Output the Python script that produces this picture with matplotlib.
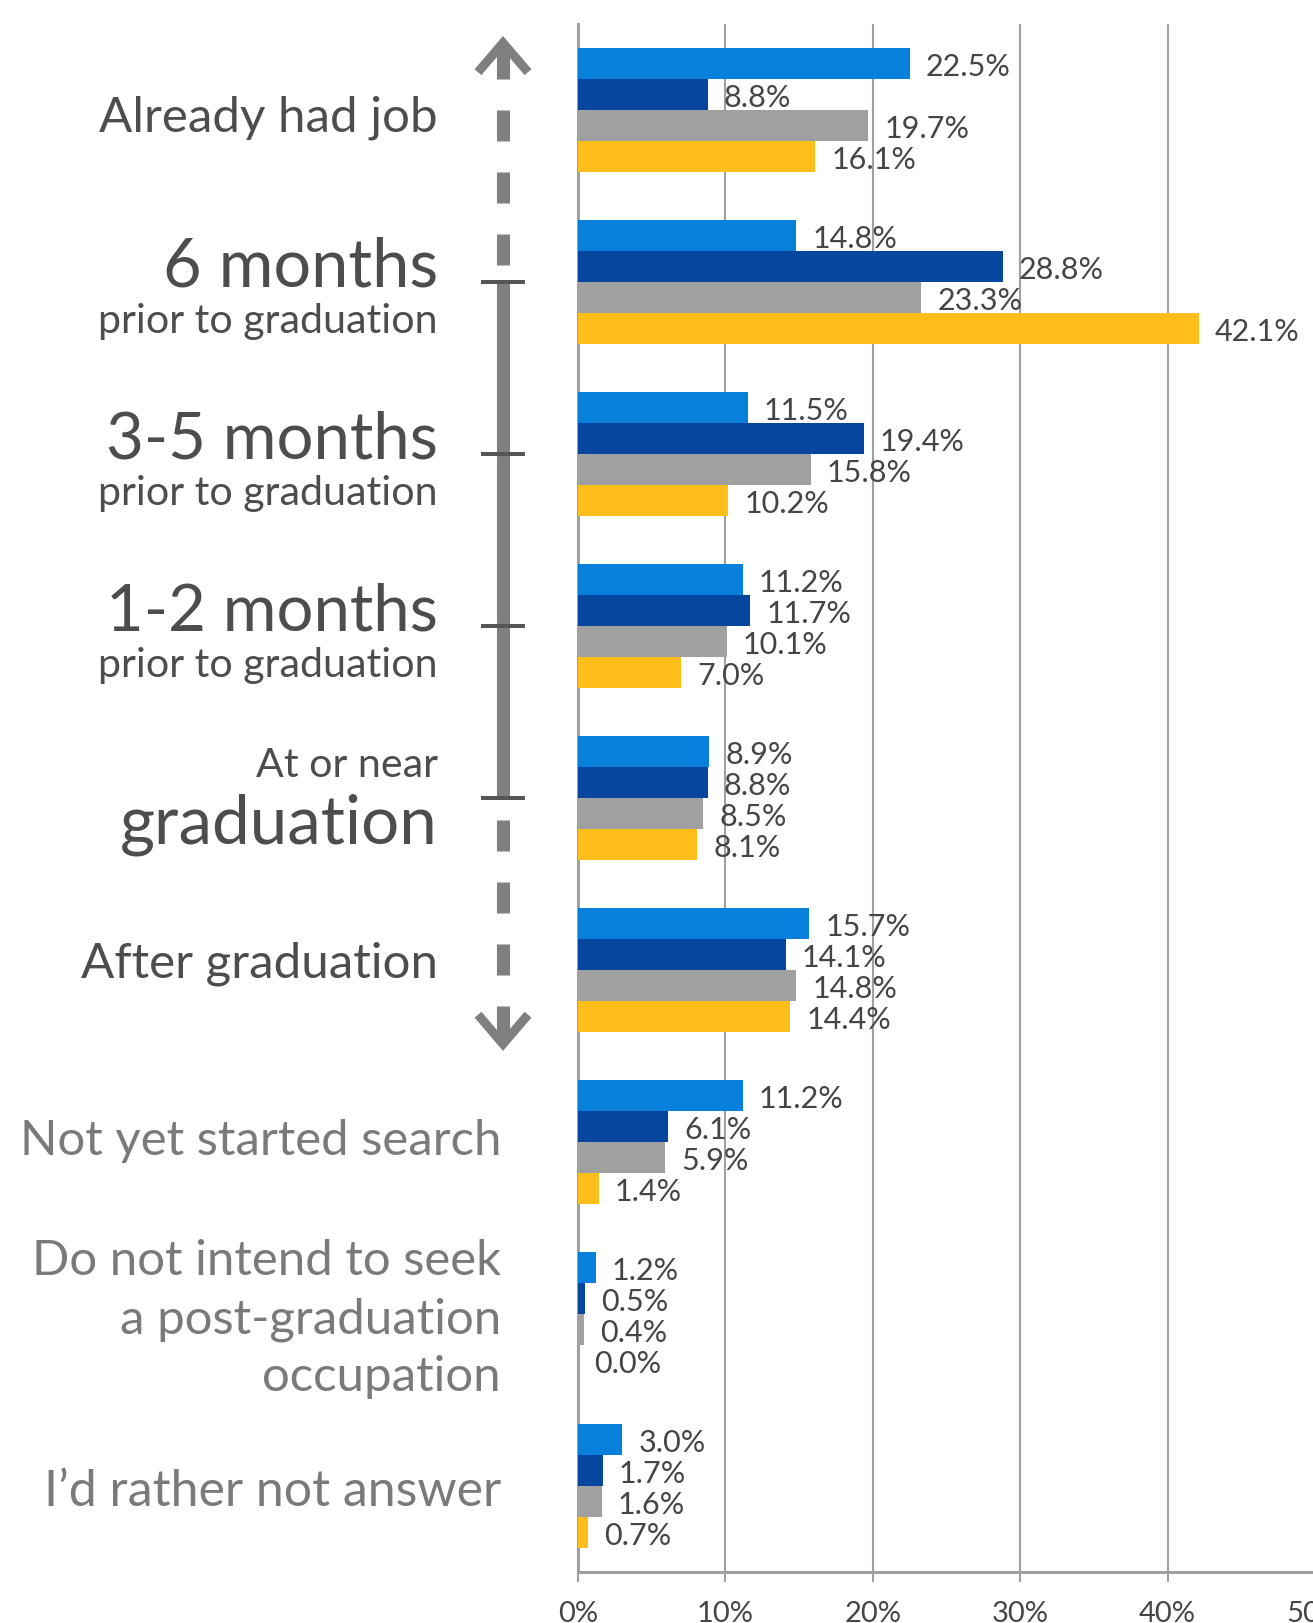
import matplotlib
matplotlib.use('Agg')
import matplotlib.pyplot as plt
import matplotlib.transforms as mtransforms
import numpy as np

# categories, top to bottom
categories = ['Already had job', '6 months prior to graduation',
              '3-5 months prior to graduation', '1-2 months prior to graduation',
              'At or near graduation', 'After graduation', 'Not yet started search',
              'Do not intend to seek a post-graduation occupation',
              "I\u2019d rather not answer"]

# four series (no legend in the picture)
series_1 = [22.5, 14.8, 11.5, 11.2, 8.9, 15.7, 11.2, 1.2, 3.0]
series_2 = [8.8, 28.8, 19.4, 11.7, 8.8, 14.1, 6.1, 0.5, 1.7]
series_3 = [19.7, 23.3, 15.8, 10.1, 8.5, 14.8, 5.9, 0.4, 1.6]
series_4 = [16.1, 42.1, 10.2, 7.0, 8.1, 14.4, 1.4, 0.0, 0.7]
x_ticks = [0, 10, 20, 30, 40, 50]
x_tick_labels = ['0%', '10%', '20%', '30%', '40%', '50%']

colors = ['#0680DA', '#05479E', '#A0A0A0', '#FFBE1A']

plt.rcParams['font.family'] = ['Lato', 'DejaVu Sans']

W, H = 1313, 1624
fig = plt.figure(figsize=(W / 100, H / 100), dpi=100)
ax = fig.add_axes([578 / W, 51 / H, (1315 - 578) / W, (1573 - 25) / H])

y = np.arange(len(categories))
bar_h = 0.18
offsets = [-0.27, -0.09, 0.09, 0.27]
for vals, off, col in zip([series_1, series_2, series_3, series_4], offsets, colors):
    ax.barh(y + off, vals, height=bar_h, color=col, zorder=3)
    for yi, v in zip(y, vals):
        ax.annotate(f'{v:.1f}%', (v, yi + off), xytext=(11.5, -1.5), textcoords='offset points',
                    va='center', ha='left', fontsize=22, color='#454545', zorder=5,
                    annotation_clip=False)

ax.set_xlim(0, 50)
ax.set_ylim(len(categories) - 0.5, -0.5)
ax.set_yticks([])
ax.set_xticks(x_ticks)
ax.set_xticklabels(x_tick_labels)
ax.tick_params(axis='x', length=7, width=1.5, color='#A0A0A0', labelsize=21,
               labelcolor='#454545', pad=13)
ax.grid(axis='x', color='#A0A0A0', linewidth=1.5, zorder=0)
for s in ['top', 'right']:
    ax.spines[s].set_visible(False)
for s in ['left', 'bottom']:
    ax.spines[s].set_color('#A0A0A0')
    ax.spines[s].set_linewidth(2.2)

# category labels on the left: (text, size, baseline offset from category)
dark, light = '#4D4D4D', '#7A7A7A'
label_lines = [
    [('Already had job', 35.5, 0.12)],
    [('6 months', 48, 0.02), ('prior to graduation', 29.6, 0.29)],
    [('3-5 months', 47, 0.02), ('prior to graduation', 29.6, 0.29)],
    [('1-2 months', 47, 0.02), ('prior to graduation', 29.6, 0.29)],
    [('At or near', 29.6, -0.13), ('graduation', 48.5, 0.26)],
    [('After graduation', 35.5, 0.04)],
    [('Not yet started search', 35.4, 0.07)],
    [('Do not intend to seek', 35.4, -0.23), ('a post-graduation', 35.4, 0.11),
     ('occupation', 35.4, 0.44)],
    [('I\u2019d rather not answer', 36, 0.11)],
]
trans = mtransforms.blended_transform_factory(fig.transFigure, ax.transData)
for i, lines in enumerate(label_lines):
    col = dark if i < 6 else light
    xr = 438 / W if i < 6 else 501 / W
    for txt, size, dy in lines:
        ax.text(xr, i + dy, txt, transform=trans, ha='right', va='baseline',
                fontsize=size, color=col, clip_on=False)

# timeline arrow
xc = 503 / W
half = 25 / W
grey = '#7F7F7F'
kw = dict(transform=trans, clip_on=False, solid_capstyle='butt')
# solid part between "6 months" and "at or near"
ax.plot([xc, xc], [1, 4], color=grey, lw=9.4, **kw)
for k in [1, 2, 3, 4]:
    ax.plot([xc - 22 / W, xc + 22 / W], [k, k], color='#555555', lw=2.9, zorder=6, **kw)
# dashes
for k in range(3):
    ax.plot([xc, xc], [k * 0.36, k * 0.36 + 0.18], color=grey, lw=9.4, **kw)
    ax.plot([xc, xc], [4.13 + k * 0.36, 4.31 + k * 0.36], color=grey, lw=9.4, **kw)
# arrow heads
ax.plot([xc, xc], [-0.37, -0.18], color=grey, lw=9.4, **kw)
ax.plot([xc - half, xc, xc + half], [-0.22, -0.39, -0.22], color=grey, lw=6.5,
        solid_joinstyle='miter', **kw)
ax.plot([xc, xc], [5.21, 5.40], color=grey, lw=9.4, **kw)
ax.plot([xc - half, xc, xc + half], [5.26, 5.43, 5.26], color=grey, lw=6.5,
        solid_joinstyle='miter', **kw)

fig.savefig('out.png', dpi=100)
